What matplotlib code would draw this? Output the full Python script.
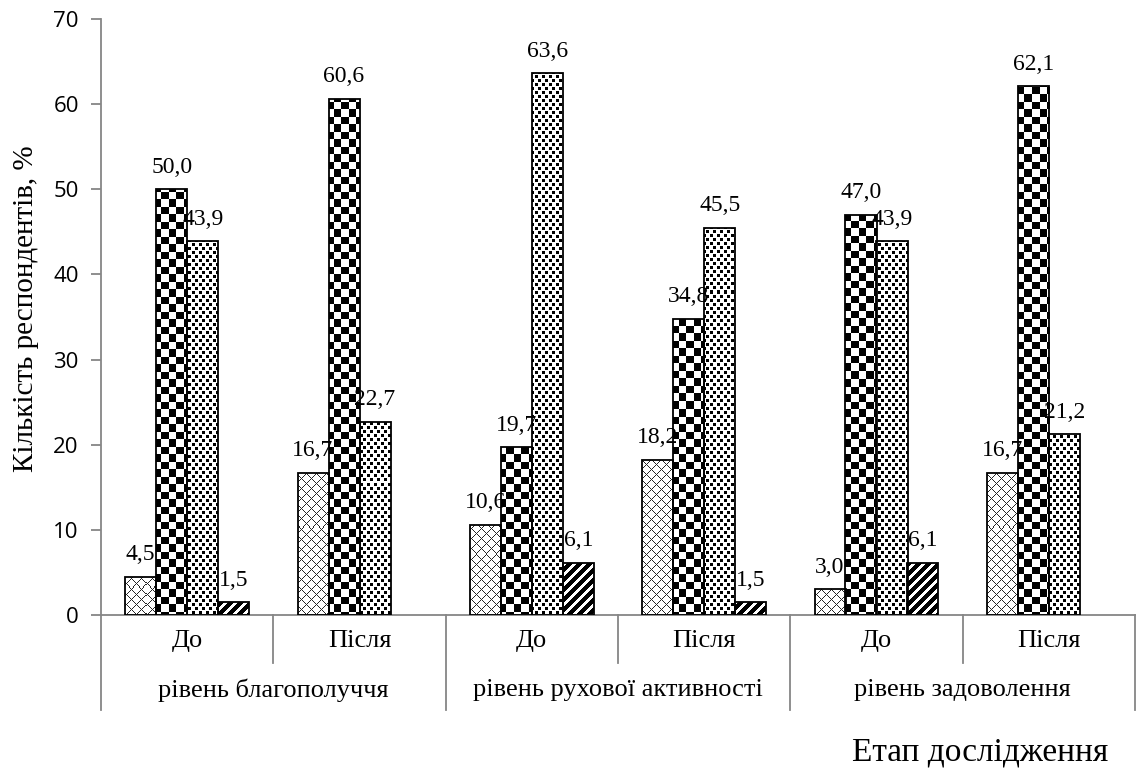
import matplotlib.pyplot as plt
import numpy as np
from matplotlib.transforms import blended_transform_factory

plt.rcParams["font.family"] = ["Liberation Serif", "DejaVu Serif"]

# Survey results, % of respondents per response level
groups = ["рівень благополуччя", "рівень рухової активності", "рівень задоволення"]
stages = ["До", "Після"]
level_1 = [4.5, 16.7, 10.6, 18.2, 3.0, 16.7]
level_2 = [50.0, 60.6, 19.7, 34.8, 47.0, 62.1]
level_3 = [43.9, 22.7, 63.6, 45.5, 43.9, 21.2]
level_4 = [1.5, 0.0, 6.1, 1.5, 6.1, 0.0]
y_ticks = [0, 10, 20, 30, 40, 50, 60, 70]

W_PX, H_PX = 1137, 778
AX_L, AX_R, AX_T, AX_B = 101, 1135, 19, 615
aw, ah = AX_R - AX_L, AX_B - AX_T

fig = plt.figure(figsize=(W_PX / 100, H_PX / 100), dpi=100)
ax = fig.add_axes([AX_L / W_PX, 1 - AX_B / H_PX, aw / W_PX, ah / H_PX])

# pixel-level fill textures, one pixel per screen pixel of the axes
yy, xx = np.mgrid[0:ah, 0:aw]
tex_cross = (((xx + yy) % 10) == 0) | (((xx - yy) % 10) == 0)
tex_checker = ((np.floor(xx / 7.5) + np.floor(yy / 7.5)) % 2).astype(bool)
shift = ((yy // 4) % 2) * 4
tex_dots = (((xx + shift) % 7) < 3) & ((yy % 4) < 3)
tex_stripes = ((xx + yy) % 10) < 6


def to_rgb(mask, ink=0.0):
    img = np.ones(mask.shape + (3,))
    img[mask] = ink
    return img


textures = [to_rgb(tex_cross, 0.15), to_rgb(tex_checker), to_rgb(tex_dots), to_rgb(tex_stripes)]
series = [level_1, level_2, level_3, level_4]

n_cat = len(level_1)
x = np.arange(n_cat) + 0.5
width = 31 / (aw / n_cat)

for k, (vals, tex) in enumerate(zip(series, textures)):
    offs = (k - 1.5) * width
    for xi, v in zip(x, vals):
        if v <= 0:
            continue
        bar = ax.bar(xi + offs, v, width, facecolor="none", edgecolor="black",
                     linewidth=1.3, zorder=3)[0]
        im = ax.imshow(tex, extent=(0, 1, 0, 1), transform=ax.transAxes,
                       interpolation="nearest", aspect="auto", zorder=2)
        im.set_clip_path(bar)
        ax.annotate(f"{v:.1f}".replace(".", ","), (xi + offs, v),
                    xytext=(0, 12), textcoords="offset points",
                    ha="center", va="baseline", fontsize=17)

ax.set_xlim(0, n_cat)
ax.set_ylim(0, 70)
ax.set_yticks(y_ticks)
ax.set_yticklabels([str(t) for t in y_ticks], family=["Open Sans", "DejaVu Sans"],
                   fontsize=16)
ax.tick_params(axis="y", direction="out", length=7, width=1.3, color="#868686", pad=9)
ax.set_xticks([])

for side in ["top", "right"]:
    ax.spines[side].set_visible(False)
for side in ["left", "bottom"]:
    ax.spines[side].set_color("#868686")
    ax.spines[side].set_linewidth(1.3)
ax.spines["left"].set_bounds(0, 70)

ax.set_ylabel("Кількість респондентів, %", fontsize=21)
ax.yaxis.set_label_coords((39 - AX_L) / aw, (AX_B - 309) / ah)

# two-level category labels under the axis
trans = blended_transform_factory(ax.transData, ax.transAxes)
row1 = -(641 - AX_B) / ah
row2 = -(690 - AX_B) / ah
short_end = -(663 - AX_B) / ah
long_end = -(710 - AX_B) / ah
for i in range(n_cat + 1):
    y_end = long_end if i % 2 == 0 else short_end
    ax.plot([i, i], [0, y_end], transform=trans, color="#868686",
            linewidth=1.3, clip_on=False)
for i, xi in enumerate(x):
    ax.text(xi, row1, stages[i % 2], transform=trans, ha="center", va="center",
            fontsize=19)
for g, name in enumerate(groups):
    ax.text(2 * g + 1, row2, name, transform=trans, ha="center", va="center",
            fontsize=19)

fig.text(980 / W_PX, 1 - 752 / H_PX, "Етап дослідження", ha="center",
         va="center", fontsize=24)

fig.savefig("out.png", dpi=100, facecolor="white")
